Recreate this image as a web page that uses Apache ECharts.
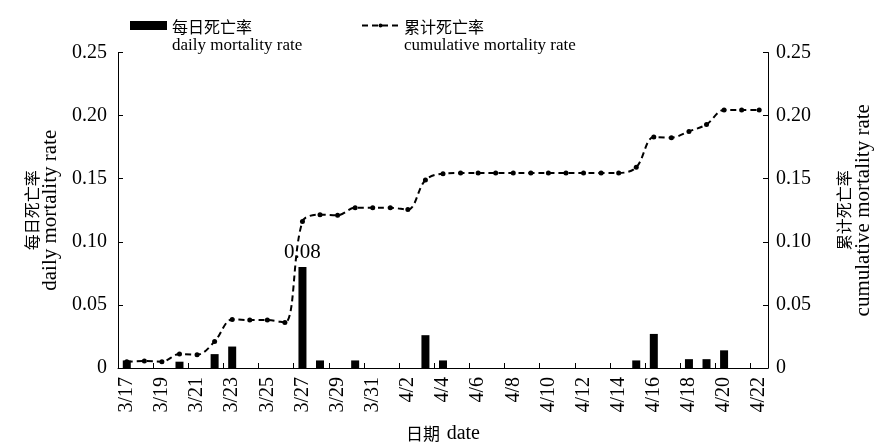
<!DOCTYPE html>
<html>
<head>
<meta charset="utf-8">
<script src="https://cdn.jsdelivr.net/npm/echarts@6/dist/echarts.min.js"></script>
<style>
  html, body { margin: 0; padding: 0; background: #fff; }
  #chart { width: 878px; height: 444px; }
</style>
</head>
<body>
<div id="chart"></div>
<script>
// Dates (x categories)
const dates = [
  '3/17','3/18','3/19','3/20','3/21','3/22','3/23','3/24','3/25','3/26',
  '3/27','3/28','3/29','3/30','3/31','4/1','4/2','4/3','4/4','4/5',
  '4/6','4/7','4/8','4/9','4/10','4/11','4/12','4/13','4/14','4/15',
  '4/16','4/17','4/18','4/19','4/20','4/21','4/22'
];

// Daily mortality rate (bars)
const dailyRate = [
  0.006, 0, 0, 0.005, 0, 0.011, 0.017, 0, 0, 0,
  0.08, 0.006, 0, 0.006, 0, 0, 0, 0.026, 0.006, 0,
  0, 0, 0, 0, 0, 0, 0, 0, 0, 0.006,
  0.027, 0, 0.007, 0.007, 0.014, 0, 0
];

// Cumulative mortality rate (dashed line)
const cumulativeRate = [
  0.005, 0.0055, 0.005, 0.011, 0.0105, 0.021, 0.0385, 0.038, 0.038, 0.036,
  0.116, 0.1215, 0.121, 0.127, 0.127, 0.127, 0.1255, 0.149, 0.154, 0.1545,
  0.1545, 0.1545, 0.1545, 0.1545, 0.1545, 0.1545, 0.1545, 0.1545, 0.1545, 0.159,
  0.183, 0.1825, 0.1875, 0.193, 0.2045, 0.2045, 0.2045
];

// Index of the bar whose value is printed above it
const labelledDay = 10;

const serif = '"Liberation Serif", "Times New Roman", "Noto Sans CJK SC", serif';
const cjk = '"Noto Sans CJK SC", "Liberation Serif", serif';

const names = {
  daily: { zh: '每日死亡率', en: 'daily mortality rate' },
  cum: { zh: '累计死亡率', en: 'cumulative mortality rate' }
};

const legendRich = {
  zh: { fontFamily: cjk, fontSize: 16, lineHeight: 19, color: '#000' },
  en: { fontFamily: serif, fontSize: 17, lineHeight: 19, color: '#000' }
};

function legendFormatter(name) {
  const key = name === names.daily.zh ? 'daily' : 'cum';
  return '{zh|' + names[key].zh + '}\n{en|' + names[key].en + '}';
}

const nameRich = {
  zh: { fontFamily: cjk, fontSize: 16, lineHeight: 19, color: '#000' },
  en: { fontFamily: serif, fontSize: 21, lineHeight: 19, color: '#000' }
};

function yLabel(v) { return v === 0 ? '0' : v.toFixed(2); }

const yAxisCommon = {
  type: 'value',
  min: 0,
  max: 0.25,
  interval: 0.05,
  nameLocation: 'middle',
  nameRotate: 90,
  axisLine: { show: true, lineStyle: { color: '#000', width: 1 } },
  axisTick: { show: true, inside: true, length: 5, lineStyle: { color: '#000' } },
  splitLine: { show: false },
  axisLabel: { formatter: yLabel, fontFamily: serif, fontSize: 20, color: '#000' },
  nameTextStyle: { rich: nameRich }
};

const barData = dailyRate.map((v, i) => i === labelledDay
  ? { value: v, label: { show: true } }
  : v);

const chart = echarts.init(document.getElementById('chart'), null, { renderer: 'canvas' });
chart.setOption({
  animation: false,
  backgroundColor: '#fff',
  grid: { left: 118, right: 110, top: 52.5, bottom: 76, containLabel: false, outerBoundsMode: 'none' },
  legend: [
    {
      data: [names.daily.zh],
      left: 125, top: 14,
      icon: 'rect', itemWidth: 37, itemHeight: 9,
      formatter: legendFormatter,
      textStyle: { rich: legendRich, padding: [22, 0, 0, 0] }
    },
    {
      data: [names.cum.zh],
      left: 356, top: 14,
      itemWidth: 37, itemHeight: 5,
      formatter: legendFormatter,
      textStyle: { rich: legendRich, padding: [22, 0, 0, 0] }
    }
  ],
  xAxis: {
    type: 'category',
    data: dates,
    boundaryGap: true,
    name: '{zh|日期}  {en|date}',
    nameLocation: 'middle',
    nameGap: 56,
    nameTextStyle: {
      rich: {
        zh: { fontFamily: cjk, fontSize: 17, color: '#000' },
        en: { fontFamily: serif, fontSize: 20, color: '#000' }
      }
    },
    axisLine: { lineStyle: { color: '#000', width: 1 } },
    axisTick: { show: true, inside: true, length: 5, interval: 1, lineStyle: { color: '#000' } },
    axisLabel: { interval: 1, rotate: 90, margin: 9, fontFamily: serif, fontSize: 20, color: '#000' },
    splitLine: { show: false }
  },
  yAxis: [
    Object.assign({}, yAxisCommon, {
      position: 'left',
      name: '{zh|' + names.daily.zh + '}\n{en|' + names.daily.en + '}',
      nameGap: 58,
      axisLabel: Object.assign({}, yAxisCommon.axisLabel, { margin: 11 })
    }),
    Object.assign({}, yAxisCommon, {
      position: 'right',
      name: '{zh|' + names.cum.zh + '}\n{en|' + names.cum.en + '}',
      nameGap: 66,
      nameTextStyle: {
        rich: {
          zh: nameRich.zh,
          en: Object.assign({}, nameRich.en, { lineHeight: 21 })
        }
      },
      axisLabel: Object.assign({}, yAxisCommon.axisLabel, { margin: 8 })
    })
  ],
  series: [
    {
      name: names.daily.zh,
      type: 'bar',
      yAxisIndex: 0,
      barWidth: 8,
      itemStyle: { color: '#000' },
      label: {
        show: false,
        position: 'top',
        distance: 4,
        fontFamily: serif,
        fontSize: 21,
        color: '#000',
        formatter: p => p.value.toFixed(2)
      },
      data: barData
    },
    {
      name: names.cum.zh,
      type: 'line',
      yAxisIndex: 1,
      smooth: 0.35,
      symbol: 'circle',
      symbolSize: 5,
      itemStyle: { color: '#000' },
      lineStyle: { color: '#000', width: 2, type: [6, 4] },
      data: cumulativeRate
    }
  ]
});
</script>
</body>
</html>
